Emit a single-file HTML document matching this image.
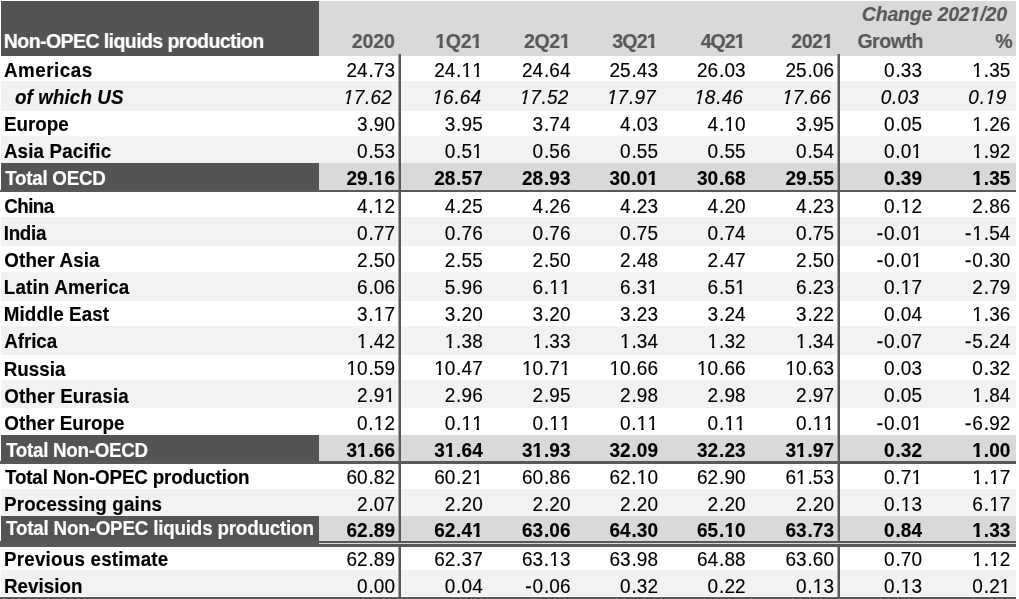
<!DOCTYPE html>
<html><head><meta charset="utf-8"><style>
html,body{margin:0;padding:0;}
body{width:1019px;height:599px;position:relative;overflow:hidden;background:#fff;font-family:"Liberation Sans",sans-serif;filter:grayscale(1);}
div{position:absolute;}
p{position:absolute;margin:0;line-height:1;white-space:nowrap;-webkit-text-stroke:0.15px;}
i{font-style:inherit;}
b{font-weight:inherit;display:inline-block;clip-path:polygon(0 0,100% 0,100% .62em,.36em .62em,.36em 100%,.23em 100%,.23em .62em,0 .62em);}
.B b{clip-path:polygon(0 0,100% 0,100% .6em,.395em .6em,.395em 100%,.21em 100%,.21em .6em,0 .6em);}
.I b{clip-path:polygon(0 0,100% 0,100% .62em,.315em .62em,.315em 100%,.185em 100%,.185em .62em,0 .62em);}
.BI b{clip-path:polygon(0 0,100% 0,100% .6em,.35em .6em,.35em 100%,.17em 100%,.17em .6em,0 .6em);}
</style></head><body>
<div style="left:1px;top:1px;width:318px;height:54.5px;background:#545454;"></div>
<div style="left:319px;top:1px;width:697px;height:54.5px;background:#d9d9d9;"></div>
<div style="left:1px;top:81px;width:1015px;height:29.75px;background:#f2f2f2;"></div>
<div style="left:1px;top:136.2px;width:1015px;height:26.9px;background:#f2f2f2;"></div>
<div style="left:1px;top:163.1px;width:318px;height:28.7px;background:#545454;"></div>
<div style="left:319px;top:163.1px;width:697px;height:28.7px;background:#d9d9d9;"></div>
<div style="left:1px;top:217.2px;width:1015px;height:28.6px;background:#f2f2f2;"></div>
<div style="left:1px;top:272.2px;width:1015px;height:28.6px;background:#f2f2f2;"></div>
<div style="left:1px;top:326.4px;width:1015px;height:28.4px;background:#f2f2f2;"></div>
<div style="left:1px;top:380.2px;width:1015px;height:28.3px;background:#f2f2f2;"></div>
<div style="left:1px;top:435.2px;width:318px;height:28.3px;background:#545454;"></div>
<div style="left:319px;top:435.2px;width:697px;height:28.3px;background:#d9d9d9;"></div>
<div style="left:1px;top:489.3px;width:1015px;height:26.7px;background:#f2f2f2;"></div>
<div style="left:1px;top:516px;width:318px;height:30.6px;background:#545454;"></div>
<div style="left:319px;top:516px;width:697px;height:30.6px;background:#d9d9d9;"></div>
<div style="left:1px;top:570.3px;width:1015px;height:26px;background:#f2f2f2;"></div>
<div style="left:399px;top:54px;width:2px;height:542.6px;background:#595959;"></div>
<div style="left:838px;top:54px;width:2px;height:542.6px;background:#595959;"></div>
<div style="left:398px;top:54px;width:1px;height:542.6px;background:#a6a6a6;"></div>
<div style="left:837px;top:54px;width:1px;height:542.6px;background:#a6a6a6;"></div>
<div style="left:0px;top:189.6px;width:1016px;height:2.2px;background:#595959;"></div>
<div style="left:0px;top:461px;width:1016px;height:2.5px;background:#595959;"></div>
<div style="left:0px;top:540.7px;width:1016px;height:5.9px;background:#595959;"></div>
<div style="left:319px;top:542.7px;width:697px;height:1.5px;background:#d9d9d9;"></div>
<div style="left:0px;top:596.6px;width:1016px;height:2.4px;background:#595959;"></div>
<p class="B" style="left:3.86px;top:32.29px;font-size:19.5px;font-weight:bold;color:#fff;letter-spacing:-0.574px;">Non-OPEC liquids production</p>
<p class="B" style="right:624.20px;text-align:right;top:32.29px;font-size:19.5px;font-weight:bold;color:#595959;letter-spacing:-0.100px;">2020</p>
<p class="B" style="right:537.20px;text-align:right;top:32.29px;font-size:19.5px;font-weight:bold;color:#595959;letter-spacing:-0.267px;"><b>1</b>Q2<b>1</b></p>
<p class="B" style="right:448.70px;text-align:right;top:32.29px;font-size:19.5px;font-weight:bold;color:#595959;letter-spacing:-0.333px;">2Q2<b>1</b></p>
<p class="B" style="right:362.20px;text-align:right;top:32.29px;font-size:19.5px;font-weight:bold;color:#595959;letter-spacing:-0.800px;">3Q2<b>1</b></p>
<p class="B" style="right:274.50px;text-align:right;top:32.29px;font-size:19.5px;font-weight:bold;color:#595959;letter-spacing:-0.967px;">4Q2<b>1</b></p>
<p class="B" style="right:186.20px;text-align:right;top:32.29px;font-size:19.5px;font-weight:bold;color:#595959;letter-spacing:-0.467px;">202<b>1</b></p>
<p class="B" style="right:96.00px;text-align:right;top:32.29px;font-size:19.5px;font-weight:bold;color:#595959;letter-spacing:-0.440px;">Growth</p>
<p class="B" style="right:6.40px;text-align:right;top:32.29px;font-size:19.5px;font-weight:bold;color:#595959;">%</p>
<p class="BI" style="right:12.20px;text-align:right;top:5.19px;font-size:19.5px;font-weight:bold;font-style:italic;color:#595959;letter-spacing:-0.169px;">Change 202<b>1</b>/20</p>
<p class="B" style="left:3.91px;top:62.09px;font-size:18.8px;font-weight:bold;letter-spacing:0.538px;transform:scaleY(1.0770);transform-origin:0 15.91px;">Americas</p>
<p style="right:624.00px;text-align:right;top:60.92px;font-size:19.0px;transform:scaleY(1.0400);transform-origin:0 16.08px;">24<i style="letter-spacing:1.0px;position:relative;left:0.8px">.</i>73</p>
<p style="right:536.30px;text-align:right;top:60.92px;font-size:19.0px;transform:scaleY(1.0400);transform-origin:0 16.08px;">24<i style="letter-spacing:1.0px;position:relative;left:0.8px">.</i><b>1</b><b>1</b></p>
<p style="right:448.50px;text-align:right;top:60.92px;font-size:19.0px;transform:scaleY(1.0400);transform-origin:0 16.08px;">24<i style="letter-spacing:1.0px;position:relative;left:0.8px">.</i>64</p>
<p style="right:361.00px;text-align:right;top:60.92px;font-size:19.0px;transform:scaleY(1.0400);transform-origin:0 16.08px;">25<i style="letter-spacing:1.0px;position:relative;left:0.8px">.</i>43</p>
<p style="right:273.40px;text-align:right;top:60.92px;font-size:19.0px;transform:scaleY(1.0400);transform-origin:0 16.08px;">26<i style="letter-spacing:1.0px;position:relative;left:0.8px">.</i>03</p>
<p style="right:185.00px;text-align:right;top:60.92px;font-size:19.0px;transform:scaleY(1.0400);transform-origin:0 16.08px;">25<i style="letter-spacing:1.0px;position:relative;left:0.8px">.</i>06</p>
<p style="right:97.00px;text-align:right;top:60.92px;font-size:19.0px;transform:scaleY(1.0400);transform-origin:0 16.08px;">0<i style="letter-spacing:1.0px;position:relative;left:0.8px">.</i>33</p>
<p style="right:8.70px;text-align:right;top:60.92px;font-size:19.0px;transform:scaleY(1.0400);transform-origin:0 16.08px;"><b>1</b><i style="letter-spacing:1.0px;position:relative;left:0.8px">.</i>35</p>
<p class="BI" style="left:14.90px;top:89.09px;font-size:18.8px;font-weight:bold;font-style:italic;letter-spacing:0.119px;transform:scaleY(1.0770);transform-origin:0 15.91px;">of which US</p>
<p class="I" style="right:627.30px;text-align:right;top:87.92px;font-size:19.0px;font-style:italic;transform:scaleY(1.0400);transform-origin:0 16.08px;"><b>1</b>7<i style="letter-spacing:1.0px;position:relative;left:0.8px">.</i>62</p>
<p class="I" style="right:538.00px;text-align:right;top:87.92px;font-size:19.0px;font-style:italic;transform:scaleY(1.0400);transform-origin:0 16.08px;"><b>1</b>6<i style="letter-spacing:1.0px;position:relative;left:0.8px">.</i>64</p>
<p class="I" style="right:450.80px;text-align:right;top:87.92px;font-size:19.0px;font-style:italic;transform:scaleY(1.0400);transform-origin:0 16.08px;"><b>1</b>7<i style="letter-spacing:1.0px;position:relative;left:0.8px">.</i>52</p>
<p class="I" style="right:363.40px;text-align:right;top:87.92px;font-size:19.0px;font-style:italic;transform:scaleY(1.0400);transform-origin:0 16.08px;"><b>1</b>7<i style="letter-spacing:1.0px;position:relative;left:0.8px">.</i>97</p>
<p class="I" style="right:276.20px;text-align:right;top:87.92px;font-size:19.0px;font-style:italic;transform:scaleY(1.0400);transform-origin:0 16.08px;"><b>1</b>8<i style="letter-spacing:1.0px;position:relative;left:0.8px">.</i>46</p>
<p class="I" style="right:188.30px;text-align:right;top:87.92px;font-size:19.0px;font-style:italic;transform:scaleY(1.0400);transform-origin:0 16.08px;"><b>1</b>7<i style="letter-spacing:1.0px;position:relative;left:0.8px">.</i>66</p>
<p class="I" style="right:100.30px;text-align:right;top:87.92px;font-size:19.0px;font-style:italic;transform:scaleY(1.0400);transform-origin:0 16.08px;">0<i style="letter-spacing:1.0px;position:relative;left:0.8px">.</i>03</p>
<p class="I" style="right:12.70px;text-align:right;top:87.92px;font-size:19.0px;font-style:italic;transform:scaleY(1.0400);transform-origin:0 16.08px;">0<i style="letter-spacing:1.0px;position:relative;left:0.8px">.</i><b>1</b>9</p>
<p class="B" style="left:3.97px;top:116.09px;font-size:18.8px;font-weight:bold;letter-spacing:-0.004px;transform:scaleY(1.0770);transform-origin:0 15.91px;">Europe</p>
<p style="right:624.00px;text-align:right;top:114.92px;font-size:19.0px;transform:scaleY(1.0400);transform-origin:0 16.08px;">3<i style="letter-spacing:1.0px;position:relative;left:0.8px">.</i>90</p>
<p style="right:536.30px;text-align:right;top:114.92px;font-size:19.0px;transform:scaleY(1.0400);transform-origin:0 16.08px;">3<i style="letter-spacing:1.0px;position:relative;left:0.8px">.</i>95</p>
<p style="right:448.50px;text-align:right;top:114.92px;font-size:19.0px;transform:scaleY(1.0400);transform-origin:0 16.08px;">3<i style="letter-spacing:1.0px;position:relative;left:0.8px">.</i>74</p>
<p style="right:361.00px;text-align:right;top:114.92px;font-size:19.0px;transform:scaleY(1.0400);transform-origin:0 16.08px;">4<i style="letter-spacing:1.0px;position:relative;left:0.8px">.</i>03</p>
<p style="right:273.40px;text-align:right;top:114.92px;font-size:19.0px;transform:scaleY(1.0400);transform-origin:0 16.08px;">4<i style="letter-spacing:1.0px;position:relative;left:0.8px">.</i><b>1</b>0</p>
<p style="right:185.00px;text-align:right;top:114.92px;font-size:19.0px;transform:scaleY(1.0400);transform-origin:0 16.08px;">3<i style="letter-spacing:1.0px;position:relative;left:0.8px">.</i>95</p>
<p style="right:97.00px;text-align:right;top:114.92px;font-size:19.0px;transform:scaleY(1.0400);transform-origin:0 16.08px;">0<i style="letter-spacing:1.0px;position:relative;left:0.8px">.</i>05</p>
<p style="right:8.70px;text-align:right;top:114.92px;font-size:19.0px;transform:scaleY(1.0400);transform-origin:0 16.08px;"><b>1</b><i style="letter-spacing:1.0px;position:relative;left:0.8px">.</i>26</p>
<p class="B" style="left:3.90px;top:143.09px;font-size:18.8px;font-weight:bold;letter-spacing:0.160px;transform:scaleY(1.0770);transform-origin:0 15.91px;">Asia Pacific</p>
<p style="right:624.00px;text-align:right;top:141.92px;font-size:19.0px;transform:scaleY(1.0400);transform-origin:0 16.08px;">0<i style="letter-spacing:1.0px;position:relative;left:0.8px">.</i>53</p>
<p style="right:536.30px;text-align:right;top:141.92px;font-size:19.0px;transform:scaleY(1.0400);transform-origin:0 16.08px;">0<i style="letter-spacing:1.0px;position:relative;left:0.8px">.</i>5<b>1</b></p>
<p style="right:448.50px;text-align:right;top:141.92px;font-size:19.0px;transform:scaleY(1.0400);transform-origin:0 16.08px;">0<i style="letter-spacing:1.0px;position:relative;left:0.8px">.</i>56</p>
<p style="right:361.00px;text-align:right;top:141.92px;font-size:19.0px;transform:scaleY(1.0400);transform-origin:0 16.08px;">0<i style="letter-spacing:1.0px;position:relative;left:0.8px">.</i>55</p>
<p style="right:273.40px;text-align:right;top:141.92px;font-size:19.0px;transform:scaleY(1.0400);transform-origin:0 16.08px;">0<i style="letter-spacing:1.0px;position:relative;left:0.8px">.</i>55</p>
<p style="right:185.00px;text-align:right;top:141.92px;font-size:19.0px;transform:scaleY(1.0400);transform-origin:0 16.08px;">0<i style="letter-spacing:1.0px;position:relative;left:0.8px">.</i>54</p>
<p style="right:97.00px;text-align:right;top:141.92px;font-size:19.0px;transform:scaleY(1.0400);transform-origin:0 16.08px;">0<i style="letter-spacing:1.0px;position:relative;left:0.8px">.</i>0<b>1</b></p>
<p style="right:8.70px;text-align:right;top:141.92px;font-size:19.0px;transform:scaleY(1.0400);transform-origin:0 16.08px;"><b>1</b><i style="letter-spacing:1.0px;position:relative;left:0.8px">.</i>92</p>
<p class="B" style="left:5.15px;top:170.09px;font-size:18.8px;font-weight:bold;color:#fff;letter-spacing:-0.245px;transform:scaleY(1.0770);transform-origin:0 15.91px;">Total OECD</p>
<p class="B" style="right:624.00px;text-align:right;top:168.92px;font-size:19.0px;font-weight:bold;transform:scaleY(1.0400);transform-origin:0 16.08px;">29<i style="letter-spacing:1.0px;position:relative;left:0.8px">.</i><b>1</b>6</p>
<p class="B" style="right:536.30px;text-align:right;top:168.92px;font-size:19.0px;font-weight:bold;transform:scaleY(1.0400);transform-origin:0 16.08px;">28<i style="letter-spacing:1.0px;position:relative;left:0.8px">.</i>57</p>
<p class="B" style="right:448.50px;text-align:right;top:168.92px;font-size:19.0px;font-weight:bold;transform:scaleY(1.0400);transform-origin:0 16.08px;">28<i style="letter-spacing:1.0px;position:relative;left:0.8px">.</i>93</p>
<p class="B" style="right:361.00px;text-align:right;top:168.92px;font-size:19.0px;font-weight:bold;transform:scaleY(1.0400);transform-origin:0 16.08px;">30<i style="letter-spacing:1.0px;position:relative;left:0.8px">.</i>0<b>1</b></p>
<p class="B" style="right:273.40px;text-align:right;top:168.92px;font-size:19.0px;font-weight:bold;transform:scaleY(1.0400);transform-origin:0 16.08px;">30<i style="letter-spacing:1.0px;position:relative;left:0.8px">.</i>68</p>
<p class="B" style="right:185.00px;text-align:right;top:168.92px;font-size:19.0px;font-weight:bold;transform:scaleY(1.0400);transform-origin:0 16.08px;">29<i style="letter-spacing:1.0px;position:relative;left:0.8px">.</i>55</p>
<p class="B" style="right:97.00px;text-align:right;top:168.92px;font-size:19.0px;font-weight:bold;transform:scaleY(1.0400);transform-origin:0 16.08px;">0<i style="letter-spacing:1.0px;position:relative;left:0.8px">.</i>39</p>
<p class="B" style="right:8.70px;text-align:right;top:168.92px;font-size:19.0px;font-weight:bold;transform:scaleY(1.0400);transform-origin:0 16.08px;"><b>1</b><i style="letter-spacing:1.0px;position:relative;left:0.8px">.</i>35</p>
<p class="B" style="left:4.23px;top:197.69px;font-size:18.8px;font-weight:bold;letter-spacing:-0.548px;transform:scaleY(1.0770);transform-origin:0 15.91px;">China</p>
<p style="right:624.00px;text-align:right;top:196.52px;font-size:19.0px;transform:scaleY(1.0400);transform-origin:0 16.08px;">4<i style="letter-spacing:1.0px;position:relative;left:0.8px">.</i><b>1</b>2</p>
<p style="right:536.30px;text-align:right;top:196.52px;font-size:19.0px;transform:scaleY(1.0400);transform-origin:0 16.08px;">4<i style="letter-spacing:1.0px;position:relative;left:0.8px">.</i>25</p>
<p style="right:448.50px;text-align:right;top:196.52px;font-size:19.0px;transform:scaleY(1.0400);transform-origin:0 16.08px;">4<i style="letter-spacing:1.0px;position:relative;left:0.8px">.</i>26</p>
<p style="right:361.00px;text-align:right;top:196.52px;font-size:19.0px;transform:scaleY(1.0400);transform-origin:0 16.08px;">4<i style="letter-spacing:1.0px;position:relative;left:0.8px">.</i>23</p>
<p style="right:273.40px;text-align:right;top:196.52px;font-size:19.0px;transform:scaleY(1.0400);transform-origin:0 16.08px;">4<i style="letter-spacing:1.0px;position:relative;left:0.8px">.</i>20</p>
<p style="right:185.00px;text-align:right;top:196.52px;font-size:19.0px;transform:scaleY(1.0400);transform-origin:0 16.08px;">4<i style="letter-spacing:1.0px;position:relative;left:0.8px">.</i>23</p>
<p style="right:97.00px;text-align:right;top:196.52px;font-size:19.0px;transform:scaleY(1.0400);transform-origin:0 16.08px;">0<i style="letter-spacing:1.0px;position:relative;left:0.8px">.</i><b>1</b>2</p>
<p style="right:8.70px;text-align:right;top:196.52px;font-size:19.0px;transform:scaleY(1.0400);transform-origin:0 16.08px;">2<i style="letter-spacing:1.0px;position:relative;left:0.8px">.</i>86</p>
<p class="B" style="left:3.78px;top:225.09px;font-size:18.8px;font-weight:bold;letter-spacing:-0.317px;transform:scaleY(1.0770);transform-origin:0 15.91px;">India</p>
<p style="right:624.00px;text-align:right;top:223.92px;font-size:19.0px;transform:scaleY(1.0400);transform-origin:0 16.08px;">0<i style="letter-spacing:1.0px;position:relative;left:0.8px">.</i>77</p>
<p style="right:536.30px;text-align:right;top:223.92px;font-size:19.0px;transform:scaleY(1.0400);transform-origin:0 16.08px;">0<i style="letter-spacing:1.0px;position:relative;left:0.8px">.</i>76</p>
<p style="right:448.50px;text-align:right;top:223.92px;font-size:19.0px;transform:scaleY(1.0400);transform-origin:0 16.08px;">0<i style="letter-spacing:1.0px;position:relative;left:0.8px">.</i>76</p>
<p style="right:361.00px;text-align:right;top:223.92px;font-size:19.0px;transform:scaleY(1.0400);transform-origin:0 16.08px;">0<i style="letter-spacing:1.0px;position:relative;left:0.8px">.</i>75</p>
<p style="right:273.40px;text-align:right;top:223.92px;font-size:19.0px;transform:scaleY(1.0400);transform-origin:0 16.08px;">0<i style="letter-spacing:1.0px;position:relative;left:0.8px">.</i>74</p>
<p style="right:185.00px;text-align:right;top:223.92px;font-size:19.0px;transform:scaleY(1.0400);transform-origin:0 16.08px;">0<i style="letter-spacing:1.0px;position:relative;left:0.8px">.</i>75</p>
<p style="right:97.00px;text-align:right;top:223.92px;font-size:19.0px;transform:scaleY(1.0400);transform-origin:0 16.08px;"><i style="letter-spacing:0.9px;-webkit-text-stroke:0.35px">-</i>0<i style="letter-spacing:1.0px;position:relative;left:0.8px">.</i>0<b>1</b></p>
<p style="right:8.70px;text-align:right;top:223.92px;font-size:19.0px;transform:scaleY(1.0400);transform-origin:0 16.08px;"><i style="letter-spacing:0.9px;-webkit-text-stroke:0.35px">-</i><b>1</b><i style="letter-spacing:1.0px;position:relative;left:0.8px">.</i>54</p>
<p class="B" style="left:4.30px;top:252.09px;font-size:18.8px;font-weight:bold;letter-spacing:0.110px;transform:scaleY(1.0770);transform-origin:0 15.91px;">Other Asia</p>
<p style="right:624.00px;text-align:right;top:250.92px;font-size:19.0px;transform:scaleY(1.0400);transform-origin:0 16.08px;">2<i style="letter-spacing:1.0px;position:relative;left:0.8px">.</i>50</p>
<p style="right:536.30px;text-align:right;top:250.92px;font-size:19.0px;transform:scaleY(1.0400);transform-origin:0 16.08px;">2<i style="letter-spacing:1.0px;position:relative;left:0.8px">.</i>55</p>
<p style="right:448.50px;text-align:right;top:250.92px;font-size:19.0px;transform:scaleY(1.0400);transform-origin:0 16.08px;">2<i style="letter-spacing:1.0px;position:relative;left:0.8px">.</i>50</p>
<p style="right:361.00px;text-align:right;top:250.92px;font-size:19.0px;transform:scaleY(1.0400);transform-origin:0 16.08px;">2<i style="letter-spacing:1.0px;position:relative;left:0.8px">.</i>48</p>
<p style="right:273.40px;text-align:right;top:250.92px;font-size:19.0px;transform:scaleY(1.0400);transform-origin:0 16.08px;">2<i style="letter-spacing:1.0px;position:relative;left:0.8px">.</i>47</p>
<p style="right:185.00px;text-align:right;top:250.92px;font-size:19.0px;transform:scaleY(1.0400);transform-origin:0 16.08px;">2<i style="letter-spacing:1.0px;position:relative;left:0.8px">.</i>50</p>
<p style="right:97.00px;text-align:right;top:250.92px;font-size:19.0px;transform:scaleY(1.0400);transform-origin:0 16.08px;"><i style="letter-spacing:0.9px;-webkit-text-stroke:0.35px">-</i>0<i style="letter-spacing:1.0px;position:relative;left:0.8px">.</i>0<b>1</b></p>
<p style="right:8.70px;text-align:right;top:250.92px;font-size:19.0px;transform:scaleY(1.0400);transform-origin:0 16.08px;"><i style="letter-spacing:0.9px;-webkit-text-stroke:0.35px">-</i>0<i style="letter-spacing:1.0px;position:relative;left:0.8px">.</i>30</p>
<p class="B" style="left:3.82px;top:279.09px;font-size:18.8px;font-weight:bold;letter-spacing:0.163px;transform:scaleY(1.0770);transform-origin:0 15.91px;">Latin America</p>
<p style="right:624.00px;text-align:right;top:277.92px;font-size:19.0px;transform:scaleY(1.0400);transform-origin:0 16.08px;">6<i style="letter-spacing:1.0px;position:relative;left:0.8px">.</i>06</p>
<p style="right:536.30px;text-align:right;top:277.92px;font-size:19.0px;transform:scaleY(1.0400);transform-origin:0 16.08px;">5<i style="letter-spacing:1.0px;position:relative;left:0.8px">.</i>96</p>
<p style="right:448.50px;text-align:right;top:277.92px;font-size:19.0px;transform:scaleY(1.0400);transform-origin:0 16.08px;">6<i style="letter-spacing:1.0px;position:relative;left:0.8px">.</i><b>1</b><b>1</b></p>
<p style="right:361.00px;text-align:right;top:277.92px;font-size:19.0px;transform:scaleY(1.0400);transform-origin:0 16.08px;">6<i style="letter-spacing:1.0px;position:relative;left:0.8px">.</i>3<b>1</b></p>
<p style="right:273.40px;text-align:right;top:277.92px;font-size:19.0px;transform:scaleY(1.0400);transform-origin:0 16.08px;">6<i style="letter-spacing:1.0px;position:relative;left:0.8px">.</i>5<b>1</b></p>
<p style="right:185.00px;text-align:right;top:277.92px;font-size:19.0px;transform:scaleY(1.0400);transform-origin:0 16.08px;">6<i style="letter-spacing:1.0px;position:relative;left:0.8px">.</i>23</p>
<p style="right:97.00px;text-align:right;top:277.92px;font-size:19.0px;transform:scaleY(1.0400);transform-origin:0 16.08px;">0<i style="letter-spacing:1.0px;position:relative;left:0.8px">.</i><b>1</b>7</p>
<p style="right:8.70px;text-align:right;top:277.92px;font-size:19.0px;transform:scaleY(1.0400);transform-origin:0 16.08px;">2<i style="letter-spacing:1.0px;position:relative;left:0.8px">.</i>79</p>
<p class="B" style="left:3.81px;top:306.09px;font-size:18.8px;font-weight:bold;letter-spacing:0.083px;transform:scaleY(1.0770);transform-origin:0 15.91px;">Middle East</p>
<p style="right:624.00px;text-align:right;top:304.92px;font-size:19.0px;transform:scaleY(1.0400);transform-origin:0 16.08px;">3<i style="letter-spacing:1.0px;position:relative;left:0.8px">.</i><b>1</b>7</p>
<p style="right:536.30px;text-align:right;top:304.92px;font-size:19.0px;transform:scaleY(1.0400);transform-origin:0 16.08px;">3<i style="letter-spacing:1.0px;position:relative;left:0.8px">.</i>20</p>
<p style="right:448.50px;text-align:right;top:304.92px;font-size:19.0px;transform:scaleY(1.0400);transform-origin:0 16.08px;">3<i style="letter-spacing:1.0px;position:relative;left:0.8px">.</i>20</p>
<p style="right:361.00px;text-align:right;top:304.92px;font-size:19.0px;transform:scaleY(1.0400);transform-origin:0 16.08px;">3<i style="letter-spacing:1.0px;position:relative;left:0.8px">.</i>23</p>
<p style="right:273.40px;text-align:right;top:304.92px;font-size:19.0px;transform:scaleY(1.0400);transform-origin:0 16.08px;">3<i style="letter-spacing:1.0px;position:relative;left:0.8px">.</i>24</p>
<p style="right:185.00px;text-align:right;top:304.92px;font-size:19.0px;transform:scaleY(1.0400);transform-origin:0 16.08px;">3<i style="letter-spacing:1.0px;position:relative;left:0.8px">.</i>22</p>
<p style="right:97.00px;text-align:right;top:304.92px;font-size:19.0px;transform:scaleY(1.0400);transform-origin:0 16.08px;">0<i style="letter-spacing:1.0px;position:relative;left:0.8px">.</i>04</p>
<p style="right:8.70px;text-align:right;top:304.92px;font-size:19.0px;transform:scaleY(1.0400);transform-origin:0 16.08px;"><b>1</b><i style="letter-spacing:1.0px;position:relative;left:0.8px">.</i>36</p>
<p class="B" style="left:4.28px;top:333.09px;font-size:18.8px;font-weight:bold;letter-spacing:-0.077px;transform:scaleY(1.0770);transform-origin:0 15.91px;">Africa</p>
<p style="right:624.00px;text-align:right;top:331.92px;font-size:19.0px;transform:scaleY(1.0400);transform-origin:0 16.08px;"><b>1</b><i style="letter-spacing:1.0px;position:relative;left:0.8px">.</i>42</p>
<p style="right:536.30px;text-align:right;top:331.92px;font-size:19.0px;transform:scaleY(1.0400);transform-origin:0 16.08px;"><b>1</b><i style="letter-spacing:1.0px;position:relative;left:0.8px">.</i>38</p>
<p style="right:448.50px;text-align:right;top:331.92px;font-size:19.0px;transform:scaleY(1.0400);transform-origin:0 16.08px;"><b>1</b><i style="letter-spacing:1.0px;position:relative;left:0.8px">.</i>33</p>
<p style="right:361.00px;text-align:right;top:331.92px;font-size:19.0px;transform:scaleY(1.0400);transform-origin:0 16.08px;"><b>1</b><i style="letter-spacing:1.0px;position:relative;left:0.8px">.</i>34</p>
<p style="right:273.40px;text-align:right;top:331.92px;font-size:19.0px;transform:scaleY(1.0400);transform-origin:0 16.08px;"><b>1</b><i style="letter-spacing:1.0px;position:relative;left:0.8px">.</i>32</p>
<p style="right:185.00px;text-align:right;top:331.92px;font-size:19.0px;transform:scaleY(1.0400);transform-origin:0 16.08px;"><b>1</b><i style="letter-spacing:1.0px;position:relative;left:0.8px">.</i>34</p>
<p style="right:97.00px;text-align:right;top:331.92px;font-size:19.0px;transform:scaleY(1.0400);transform-origin:0 16.08px;"><i style="letter-spacing:0.9px;-webkit-text-stroke:0.35px">-</i>0<i style="letter-spacing:1.0px;position:relative;left:0.8px">.</i>07</p>
<p style="right:8.70px;text-align:right;top:331.92px;font-size:19.0px;transform:scaleY(1.0400);transform-origin:0 16.08px;"><i style="letter-spacing:0.9px;-webkit-text-stroke:0.35px">-</i>5<i style="letter-spacing:1.0px;position:relative;left:0.8px">.</i>24</p>
<p class="B" style="left:3.81px;top:360.59px;font-size:18.8px;font-weight:bold;letter-spacing:0.013px;transform:scaleY(1.0770);transform-origin:0 15.91px;">Russia</p>
<p style="right:624.00px;text-align:right;top:359.42px;font-size:19.0px;transform:scaleY(1.0400);transform-origin:0 16.08px;"><b>1</b>0<i style="letter-spacing:1.0px;position:relative;left:0.8px">.</i>59</p>
<p style="right:536.30px;text-align:right;top:359.42px;font-size:19.0px;transform:scaleY(1.0400);transform-origin:0 16.08px;"><b>1</b>0<i style="letter-spacing:1.0px;position:relative;left:0.8px">.</i>47</p>
<p style="right:448.50px;text-align:right;top:359.42px;font-size:19.0px;transform:scaleY(1.0400);transform-origin:0 16.08px;"><b>1</b>0<i style="letter-spacing:1.0px;position:relative;left:0.8px">.</i>7<b>1</b></p>
<p style="right:361.00px;text-align:right;top:359.42px;font-size:19.0px;transform:scaleY(1.0400);transform-origin:0 16.08px;"><b>1</b>0<i style="letter-spacing:1.0px;position:relative;left:0.8px">.</i>66</p>
<p style="right:273.40px;text-align:right;top:359.42px;font-size:19.0px;transform:scaleY(1.0400);transform-origin:0 16.08px;"><b>1</b>0<i style="letter-spacing:1.0px;position:relative;left:0.8px">.</i>66</p>
<p style="right:185.00px;text-align:right;top:359.42px;font-size:19.0px;transform:scaleY(1.0400);transform-origin:0 16.08px;"><b>1</b>0<i style="letter-spacing:1.0px;position:relative;left:0.8px">.</i>63</p>
<p style="right:97.00px;text-align:right;top:359.42px;font-size:19.0px;transform:scaleY(1.0400);transform-origin:0 16.08px;">0<i style="letter-spacing:1.0px;position:relative;left:0.8px">.</i>03</p>
<p style="right:8.70px;text-align:right;top:359.42px;font-size:19.0px;transform:scaleY(1.0400);transform-origin:0 16.08px;">0<i style="letter-spacing:1.0px;position:relative;left:0.8px">.</i>32</p>
<p class="B" style="left:4.29px;top:387.59px;font-size:18.8px;font-weight:bold;letter-spacing:0.099px;transform:scaleY(1.0770);transform-origin:0 15.91px;">Other Eurasia</p>
<p style="right:624.00px;text-align:right;top:386.42px;font-size:19.0px;transform:scaleY(1.0400);transform-origin:0 16.08px;">2<i style="letter-spacing:1.0px;position:relative;left:0.8px">.</i>9<b>1</b></p>
<p style="right:536.30px;text-align:right;top:386.42px;font-size:19.0px;transform:scaleY(1.0400);transform-origin:0 16.08px;">2<i style="letter-spacing:1.0px;position:relative;left:0.8px">.</i>96</p>
<p style="right:448.50px;text-align:right;top:386.42px;font-size:19.0px;transform:scaleY(1.0400);transform-origin:0 16.08px;">2<i style="letter-spacing:1.0px;position:relative;left:0.8px">.</i>95</p>
<p style="right:361.00px;text-align:right;top:386.42px;font-size:19.0px;transform:scaleY(1.0400);transform-origin:0 16.08px;">2<i style="letter-spacing:1.0px;position:relative;left:0.8px">.</i>98</p>
<p style="right:273.40px;text-align:right;top:386.42px;font-size:19.0px;transform:scaleY(1.0400);transform-origin:0 16.08px;">2<i style="letter-spacing:1.0px;position:relative;left:0.8px">.</i>98</p>
<p style="right:185.00px;text-align:right;top:386.42px;font-size:19.0px;transform:scaleY(1.0400);transform-origin:0 16.08px;">2<i style="letter-spacing:1.0px;position:relative;left:0.8px">.</i>97</p>
<p style="right:97.00px;text-align:right;top:386.42px;font-size:19.0px;transform:scaleY(1.0400);transform-origin:0 16.08px;">0<i style="letter-spacing:1.0px;position:relative;left:0.8px">.</i>05</p>
<p style="right:8.70px;text-align:right;top:386.42px;font-size:19.0px;transform:scaleY(1.0400);transform-origin:0 16.08px;"><b>1</b><i style="letter-spacing:1.0px;position:relative;left:0.8px">.</i>84</p>
<p class="B" style="left:4.30px;top:414.69px;font-size:18.8px;font-weight:bold;letter-spacing:0.016px;transform:scaleY(1.0770);transform-origin:0 15.91px;">Other Europe</p>
<p style="right:624.00px;text-align:right;top:413.52px;font-size:19.0px;transform:scaleY(1.0400);transform-origin:0 16.08px;">0<i style="letter-spacing:1.0px;position:relative;left:0.8px">.</i><b>1</b>2</p>
<p style="right:536.30px;text-align:right;top:413.52px;font-size:19.0px;transform:scaleY(1.0400);transform-origin:0 16.08px;">0<i style="letter-spacing:1.0px;position:relative;left:0.8px">.</i><b>1</b><b>1</b></p>
<p style="right:448.50px;text-align:right;top:413.52px;font-size:19.0px;transform:scaleY(1.0400);transform-origin:0 16.08px;">0<i style="letter-spacing:1.0px;position:relative;left:0.8px">.</i><b>1</b><b>1</b></p>
<p style="right:361.00px;text-align:right;top:413.52px;font-size:19.0px;transform:scaleY(1.0400);transform-origin:0 16.08px;">0<i style="letter-spacing:1.0px;position:relative;left:0.8px">.</i><b>1</b><b>1</b></p>
<p style="right:273.40px;text-align:right;top:413.52px;font-size:19.0px;transform:scaleY(1.0400);transform-origin:0 16.08px;">0<i style="letter-spacing:1.0px;position:relative;left:0.8px">.</i><b>1</b><b>1</b></p>
<p style="right:185.00px;text-align:right;top:413.52px;font-size:19.0px;transform:scaleY(1.0400);transform-origin:0 16.08px;">0<i style="letter-spacing:1.0px;position:relative;left:0.8px">.</i><b>1</b><b>1</b></p>
<p style="right:97.00px;text-align:right;top:413.52px;font-size:19.0px;transform:scaleY(1.0400);transform-origin:0 16.08px;"><i style="letter-spacing:0.9px;-webkit-text-stroke:0.35px">-</i>0<i style="letter-spacing:1.0px;position:relative;left:0.8px">.</i>0<b>1</b></p>
<p style="right:8.70px;text-align:right;top:413.52px;font-size:19.0px;transform:scaleY(1.0400);transform-origin:0 16.08px;"><i style="letter-spacing:0.9px;-webkit-text-stroke:0.35px">-</i>6<i style="letter-spacing:1.0px;position:relative;left:0.8px">.</i>92</p>
<p class="B" style="left:6.02px;top:442.09px;font-size:18.8px;font-weight:bold;color:#fff;letter-spacing:-0.280px;transform:scaleY(1.0770);transform-origin:0 15.91px;">Total Non-OECD</p>
<p class="B" style="right:624.00px;text-align:right;top:440.92px;font-size:19.0px;font-weight:bold;transform:scaleY(1.0400);transform-origin:0 16.08px;">3<b>1</b><i style="letter-spacing:1.0px;position:relative;left:0.8px">.</i>66</p>
<p class="B" style="right:536.30px;text-align:right;top:440.92px;font-size:19.0px;font-weight:bold;transform:scaleY(1.0400);transform-origin:0 16.08px;">3<b>1</b><i style="letter-spacing:1.0px;position:relative;left:0.8px">.</i>64</p>
<p class="B" style="right:448.50px;text-align:right;top:440.92px;font-size:19.0px;font-weight:bold;transform:scaleY(1.0400);transform-origin:0 16.08px;">3<b>1</b><i style="letter-spacing:1.0px;position:relative;left:0.8px">.</i>93</p>
<p class="B" style="right:361.00px;text-align:right;top:440.92px;font-size:19.0px;font-weight:bold;transform:scaleY(1.0400);transform-origin:0 16.08px;">32<i style="letter-spacing:1.0px;position:relative;left:0.8px">.</i>09</p>
<p class="B" style="right:273.40px;text-align:right;top:440.92px;font-size:19.0px;font-weight:bold;transform:scaleY(1.0400);transform-origin:0 16.08px;">32<i style="letter-spacing:1.0px;position:relative;left:0.8px">.</i>23</p>
<p class="B" style="right:185.00px;text-align:right;top:440.92px;font-size:19.0px;font-weight:bold;transform:scaleY(1.0400);transform-origin:0 16.08px;">3<b>1</b><i style="letter-spacing:1.0px;position:relative;left:0.8px">.</i>97</p>
<p class="B" style="right:97.00px;text-align:right;top:440.92px;font-size:19.0px;font-weight:bold;transform:scaleY(1.0400);transform-origin:0 16.08px;">0<i style="letter-spacing:1.0px;position:relative;left:0.8px">.</i>32</p>
<p class="B" style="right:8.70px;text-align:right;top:440.92px;font-size:19.0px;font-weight:bold;transform:scaleY(1.0400);transform-origin:0 16.08px;"><b>1</b><i style="letter-spacing:1.0px;position:relative;left:0.8px">.</i>00</p>
<p class="B" style="left:4.99px;top:469.09px;font-size:18.8px;font-weight:bold;letter-spacing:-0.141px;transform:scaleY(1.0770);transform-origin:0 15.91px;">Total Non-OPEC production</p>
<p style="right:624.00px;text-align:right;top:467.92px;font-size:19.0px;transform:scaleY(1.0400);transform-origin:0 16.08px;">60<i style="letter-spacing:1.0px;position:relative;left:0.8px">.</i>82</p>
<p style="right:536.30px;text-align:right;top:467.92px;font-size:19.0px;transform:scaleY(1.0400);transform-origin:0 16.08px;">60<i style="letter-spacing:1.0px;position:relative;left:0.8px">.</i>2<b>1</b></p>
<p style="right:448.50px;text-align:right;top:467.92px;font-size:19.0px;transform:scaleY(1.0400);transform-origin:0 16.08px;">60<i style="letter-spacing:1.0px;position:relative;left:0.8px">.</i>86</p>
<p style="right:361.00px;text-align:right;top:467.92px;font-size:19.0px;transform:scaleY(1.0400);transform-origin:0 16.08px;">62<i style="letter-spacing:1.0px;position:relative;left:0.8px">.</i><b>1</b>0</p>
<p style="right:273.40px;text-align:right;top:467.92px;font-size:19.0px;transform:scaleY(1.0400);transform-origin:0 16.08px;">62<i style="letter-spacing:1.0px;position:relative;left:0.8px">.</i>90</p>
<p style="right:185.00px;text-align:right;top:467.92px;font-size:19.0px;transform:scaleY(1.0400);transform-origin:0 16.08px;">6<b>1</b><i style="letter-spacing:1.0px;position:relative;left:0.8px">.</i>53</p>
<p style="right:97.00px;text-align:right;top:467.92px;font-size:19.0px;transform:scaleY(1.0400);transform-origin:0 16.08px;">0<i style="letter-spacing:1.0px;position:relative;left:0.8px">.</i>7<b>1</b></p>
<p style="right:8.70px;text-align:right;top:467.92px;font-size:19.0px;transform:scaleY(1.0400);transform-origin:0 16.08px;"><b>1</b><i style="letter-spacing:1.0px;position:relative;left:0.8px">.</i><b>1</b>7</p>
<p class="B" style="left:3.97px;top:496.09px;font-size:18.8px;font-weight:bold;letter-spacing:0.171px;transform:scaleY(1.0770);transform-origin:0 15.91px;">Processing gains</p>
<p style="right:624.00px;text-align:right;top:494.92px;font-size:19.0px;transform:scaleY(1.0400);transform-origin:0 16.08px;">2<i style="letter-spacing:1.0px;position:relative;left:0.8px">.</i>07</p>
<p style="right:536.30px;text-align:right;top:494.92px;font-size:19.0px;transform:scaleY(1.0400);transform-origin:0 16.08px;">2<i style="letter-spacing:1.0px;position:relative;left:0.8px">.</i>20</p>
<p style="right:448.50px;text-align:right;top:494.92px;font-size:19.0px;transform:scaleY(1.0400);transform-origin:0 16.08px;">2<i style="letter-spacing:1.0px;position:relative;left:0.8px">.</i>20</p>
<p style="right:361.00px;text-align:right;top:494.92px;font-size:19.0px;transform:scaleY(1.0400);transform-origin:0 16.08px;">2<i style="letter-spacing:1.0px;position:relative;left:0.8px">.</i>20</p>
<p style="right:273.40px;text-align:right;top:494.92px;font-size:19.0px;transform:scaleY(1.0400);transform-origin:0 16.08px;">2<i style="letter-spacing:1.0px;position:relative;left:0.8px">.</i>20</p>
<p style="right:185.00px;text-align:right;top:494.92px;font-size:19.0px;transform:scaleY(1.0400);transform-origin:0 16.08px;">2<i style="letter-spacing:1.0px;position:relative;left:0.8px">.</i>20</p>
<p style="right:97.00px;text-align:right;top:494.92px;font-size:19.0px;transform:scaleY(1.0400);transform-origin:0 16.08px;">0<i style="letter-spacing:1.0px;position:relative;left:0.8px">.</i><b>1</b>3</p>
<p style="right:8.70px;text-align:right;top:494.92px;font-size:19.0px;transform:scaleY(1.0400);transform-origin:0 16.08px;">6<i style="letter-spacing:1.0px;position:relative;left:0.8px">.</i><b>1</b>7</p>
<p class="B" style="left:6.02px;top:520.09px;font-size:18.8px;font-weight:bold;color:#fff;letter-spacing:-0.182px;transform:scaleY(1.0770);transform-origin:0 15.91px;">Total Non-OPEC liquids production</p>
<p class="B" style="right:624.00px;text-align:right;top:520.92px;font-size:19.0px;font-weight:bold;transform:scaleY(1.0400);transform-origin:0 16.08px;">62<i style="letter-spacing:1.0px;position:relative;left:0.8px">.</i>89</p>
<p class="B" style="right:536.30px;text-align:right;top:520.92px;font-size:19.0px;font-weight:bold;transform:scaleY(1.0400);transform-origin:0 16.08px;">62<i style="letter-spacing:1.0px;position:relative;left:0.8px">.</i>4<b>1</b></p>
<p class="B" style="right:448.50px;text-align:right;top:520.92px;font-size:19.0px;font-weight:bold;transform:scaleY(1.0400);transform-origin:0 16.08px;">63<i style="letter-spacing:1.0px;position:relative;left:0.8px">.</i>06</p>
<p class="B" style="right:361.00px;text-align:right;top:520.92px;font-size:19.0px;font-weight:bold;transform:scaleY(1.0400);transform-origin:0 16.08px;">64<i style="letter-spacing:1.0px;position:relative;left:0.8px">.</i>30</p>
<p class="B" style="right:273.40px;text-align:right;top:520.92px;font-size:19.0px;font-weight:bold;transform:scaleY(1.0400);transform-origin:0 16.08px;">65<i style="letter-spacing:1.0px;position:relative;left:0.8px">.</i><b>1</b>0</p>
<p class="B" style="right:185.00px;text-align:right;top:520.92px;font-size:19.0px;font-weight:bold;transform:scaleY(1.0400);transform-origin:0 16.08px;">63<i style="letter-spacing:1.0px;position:relative;left:0.8px">.</i>73</p>
<p class="B" style="right:97.00px;text-align:right;top:520.92px;font-size:19.0px;font-weight:bold;transform:scaleY(1.0400);transform-origin:0 16.08px;">0<i style="letter-spacing:1.0px;position:relative;left:0.8px">.</i>84</p>
<p class="B" style="right:8.70px;text-align:right;top:520.92px;font-size:19.0px;font-weight:bold;transform:scaleY(1.0400);transform-origin:0 16.08px;"><b>1</b><i style="letter-spacing:1.0px;position:relative;left:0.8px">.</i>33</p>
<p class="B" style="left:3.97px;top:550.89px;font-size:18.8px;font-weight:bold;letter-spacing:0.220px;transform:scaleY(1.0770);transform-origin:0 15.91px;">Previous estimate</p>
<p style="right:624.00px;text-align:right;top:549.72px;font-size:19.0px;transform:scaleY(1.0400);transform-origin:0 16.08px;">62<i style="letter-spacing:1.0px;position:relative;left:0.8px">.</i>89</p>
<p style="right:536.30px;text-align:right;top:549.72px;font-size:19.0px;transform:scaleY(1.0400);transform-origin:0 16.08px;">62<i style="letter-spacing:1.0px;position:relative;left:0.8px">.</i>37</p>
<p style="right:448.50px;text-align:right;top:549.72px;font-size:19.0px;transform:scaleY(1.0400);transform-origin:0 16.08px;">63<i style="letter-spacing:1.0px;position:relative;left:0.8px">.</i><b>1</b>3</p>
<p style="right:361.00px;text-align:right;top:549.72px;font-size:19.0px;transform:scaleY(1.0400);transform-origin:0 16.08px;">63<i style="letter-spacing:1.0px;position:relative;left:0.8px">.</i>98</p>
<p style="right:273.40px;text-align:right;top:549.72px;font-size:19.0px;transform:scaleY(1.0400);transform-origin:0 16.08px;">64<i style="letter-spacing:1.0px;position:relative;left:0.8px">.</i>88</p>
<p style="right:185.00px;text-align:right;top:549.72px;font-size:19.0px;transform:scaleY(1.0400);transform-origin:0 16.08px;">63<i style="letter-spacing:1.0px;position:relative;left:0.8px">.</i>60</p>
<p style="right:97.00px;text-align:right;top:549.72px;font-size:19.0px;transform:scaleY(1.0400);transform-origin:0 16.08px;">0<i style="letter-spacing:1.0px;position:relative;left:0.8px">.</i>70</p>
<p style="right:8.70px;text-align:right;top:549.72px;font-size:19.0px;transform:scaleY(1.0400);transform-origin:0 16.08px;"><b>1</b><i style="letter-spacing:1.0px;position:relative;left:0.8px">.</i><b>1</b>2</p>
<p class="B" style="left:3.97px;top:577.79px;font-size:18.8px;font-weight:bold;letter-spacing:0.015px;transform:scaleY(1.0770);transform-origin:0 15.91px;">Revision</p>
<p style="right:624.00px;text-align:right;top:576.62px;font-size:19.0px;transform:scaleY(1.0400);transform-origin:0 16.08px;">0<i style="letter-spacing:1.0px;position:relative;left:0.8px">.</i>00</p>
<p style="right:536.30px;text-align:right;top:576.62px;font-size:19.0px;transform:scaleY(1.0400);transform-origin:0 16.08px;">0<i style="letter-spacing:1.0px;position:relative;left:0.8px">.</i>04</p>
<p style="right:448.50px;text-align:right;top:576.62px;font-size:19.0px;transform:scaleY(1.0400);transform-origin:0 16.08px;"><i style="letter-spacing:0.9px;-webkit-text-stroke:0.35px">-</i>0<i style="letter-spacing:1.0px;position:relative;left:0.8px">.</i>06</p>
<p style="right:361.00px;text-align:right;top:576.62px;font-size:19.0px;transform:scaleY(1.0400);transform-origin:0 16.08px;">0<i style="letter-spacing:1.0px;position:relative;left:0.8px">.</i>32</p>
<p style="right:273.40px;text-align:right;top:576.62px;font-size:19.0px;transform:scaleY(1.0400);transform-origin:0 16.08px;">0<i style="letter-spacing:1.0px;position:relative;left:0.8px">.</i>22</p>
<p style="right:185.00px;text-align:right;top:576.62px;font-size:19.0px;transform:scaleY(1.0400);transform-origin:0 16.08px;">0<i style="letter-spacing:1.0px;position:relative;left:0.8px">.</i><b>1</b>3</p>
<p style="right:97.00px;text-align:right;top:576.62px;font-size:19.0px;transform:scaleY(1.0400);transform-origin:0 16.08px;">0<i style="letter-spacing:1.0px;position:relative;left:0.8px">.</i><b>1</b>3</p>
<p style="right:8.70px;text-align:right;top:576.62px;font-size:19.0px;transform:scaleY(1.0400);transform-origin:0 16.08px;">0<i style="letter-spacing:1.0px;position:relative;left:0.8px">.</i>2<b>1</b></p>
</body></html>
